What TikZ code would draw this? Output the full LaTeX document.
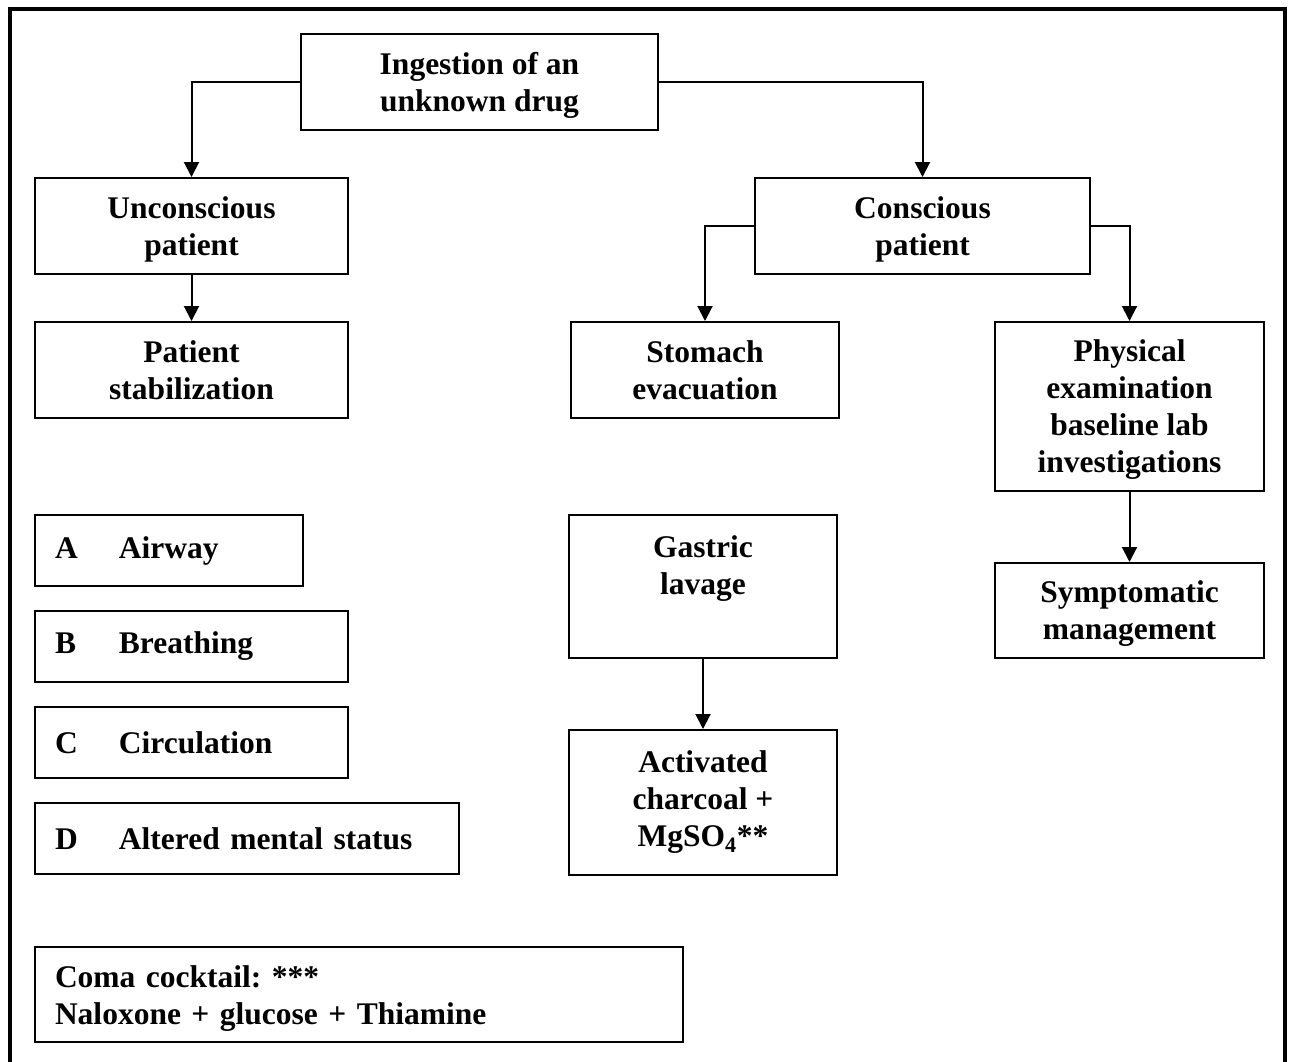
\documentclass[tikz,border=0pt]{standalone}
\usepackage{fontspec}
\setmainfont{Liberation Serif}
\usetikzlibrary{arrows.meta}
\frenchspacing
\begin{document}
\begin{tikzpicture}[x=1pt,y=-1pt,
  box/.style={draw,line width=2pt,inner sep=0pt,align=center,text depth=0pt,
    font=\fontsize{31.5}{37}\selectfont\bfseries},
  listbox/.style={box,align=left,inner xsep=20pt,text depth=},
  arr/.style={line width=2pt,-{Triangle[width=15pt,length=15pt]}},
  frame/.style={line width=4.5pt}]
\useasboundingbox (0,0) rectangle (1290,1061);
% outer frame (open at the bottom)
\draw[frame] (10,1066) -- (10,9) -- (1285,9) -- (1285,1066);

% main flow
\node[box,minimum width=357pt,minimum height=96pt] (ingest) at (479.5,82) {Ingestion of an\\unknown drug};
\node[box,minimum width=313pt,minimum height=96pt] (uncon) at (191.5,226) {Unconscious\\patient};
\node[box,minimum width=335pt,minimum height=96pt] (consc) at (922.5,226) {Conscious\\patient};
\node[box,minimum width=313pt,minimum height=96pt] (stab) at (191.5,370) {Patient\\stabilization};
\node[box,minimum width=268pt,minimum height=96pt] (stomach) at (705,370) {Stomach\\evacuation};
\node[box,minimum width=269pt,minimum height=169pt] (phys) at (1129.5,406.5) {Physical\\examination\\baseline lab\\investigations};
\node[box,minimum width=269pt,minimum height=95pt] (sympt) at (1129.5,610.5) {Symptomatic\\management};
\node[box,minimum width=268pt,minimum height=143pt,text depth=6pt] (gastric) at (703,586.5) {Gastric\\lavage\\\mbox{}};
\node[box,minimum width=268pt,minimum height=145pt,text depth=] (charcoal) at (703,802.5) {Activated\\charcoal +\\MgSO\textsubscript{4}**};

% ABCD of stabilization
\node[listbox,text width=228pt,minimum height=71pt] (airA) at (169,550.5) {\makebox[64pt][l]{A}Airway};
\node[listbox,text width=273pt,minimum height=71pt] (breathB) at (191.5,646.5) {\makebox[64pt][l]{B}Breathing};
\node[listbox,text width=273pt,minimum height=71pt] (circC) at (191.5,742.5) {\makebox[64pt][l]{C}Circulation};
\node[listbox,text width=384pt,minimum height=71pt] (mentD) at (247,838.5) {\makebox[64pt][l]{D}Altered mental status};
\node[listbox,text width=608pt,minimum height=95pt,text depth=35pt] (coma) at (359,994.5) {Coma cocktail: ***\\Naloxone + glucose + Thiamine};

% connectors
\draw[arr] (ingest.west) -| (uncon.north);
\draw[arr] (ingest.east) -| (consc.north);
\draw[arr] (uncon.south) -- (stab.north);
\draw[arr] (consc.west) -| (stomach.north);
\draw[arr] (consc.east) -| (phys.north);
\draw[arr] (phys.south) -- (sympt.north);
\draw[arr] (gastric.south) -- (charcoal.north);
\end{tikzpicture}
\end{document}
